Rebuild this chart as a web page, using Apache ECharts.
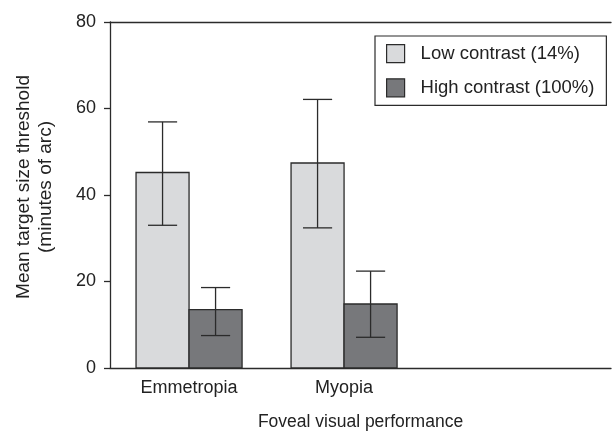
<!DOCTYPE html>
<html><head><meta charset="utf-8">
<script src="https://cdn.jsdelivr.net/npm/echarts@6/dist/echarts.min.js"></script>
<style>html,body{margin:0;padding:0;background:#fff}#c{width:612px;height:434px}</style>
</head><body><div id="c"></div>
<script>
const categories = ['Emmetropia', 'Myopia'];
const seriesNames = ['Low contrast (14%)', 'High contrast (100%)'];
const lowMean = [45.2, 47.4];
const lowLower = [33.0, 32.4];
const lowUpper = [56.9, 62.1];
const highMean = [13.5, 14.8];
const highLower = [7.5, 7.1];
const highUpper = [18.6, 22.4];
const yTicks = [0, 20, 40, 60, 80];

const FONT = '"Liberation Sans", Arial, Helvetica, sans-serif';
const TXT = '#222';
const LINE = '#2b2b2b';
const colors = ['#d9dadc', '#77787b'];
const BAR_W = 0.342;   // bar width in category units
const CAP_HALF = 0.094;

function makeRender(offsetSign) {
  return function (params, api) {
    const i = api.value(0);
    const mean = api.value(1), lo = api.value(2), hi = api.value(3);
    const x0 = offsetSign < 0 ? i - BAR_W : i;
    const x1 = offsetSign < 0 ? i : i + BAR_W;
    const xc = (x0 + x1) / 2;
    const pA = api.coord([x0, mean]);
    const pB = api.coord([x1, 0]);
    const pLo = api.coord([xc, lo]);
    const pHi = api.coord([xc, hi]);
    const cL = api.coord([xc - CAP_HALF, 0])[0];
    const cR = api.coord([xc + CAP_HALF, 0])[0];
    const ls = { stroke: LINE, lineWidth: 1.3, fill: null };
    return {
      type: 'group',
      children: [
        { type: 'rect', shape: { x: pA[0], y: pA[1], width: pB[0] - pA[0], height: pB[1] - pA[1] },
          style: { fill: api.visual('color'), stroke: LINE, lineWidth: 1.3 } },
        { type: 'line', shape: { x1: pLo[0], y1: pLo[1], x2: pHi[0], y2: pHi[1] }, style: ls },
        { type: 'line', shape: { x1: cL, y1: pHi[1], x2: cR, y2: pHi[1] }, style: ls },
        { type: 'line', shape: { x1: cL, y1: pLo[1], x2: cR, y2: pLo[1] }, style: ls }
      ]
    };
  };
}

const lowData = categories.map((c, i) => [i, lowMean[i], lowLower[i], lowUpper[i]]);
const highData = categories.map((c, i) => [i, highMean[i], highLower[i], highUpper[i]]);

const XMIN = -0.51, XMAX = 2.722;
const chart = echarts.init(document.getElementById('c'), null, { renderer: 'canvas' });
chart.setOption({
  animation: false,
  textStyle: { fontFamily: FONT },
  grid: { left: 110, right: 1, top: 22, bottom: 66, containLabel: false, outerBoundsMode: 'none' },
  legend: {
    orient: 'vertical', left: 375, top: 36,
    padding: [8, 12, 8, 11], itemGap: 15, itemWidth: 18, itemHeight: 18,
    borderColor: LINE, borderWidth: 1.2, backgroundColor: '#fff',
    icon: 'rect',
    textStyle: { fontFamily: FONT, fontSize: 18.5, color: TXT, padding: [0, 0, 0, 11] },
    data: [
      { name: seriesNames[0], itemStyle: { color: colors[0], borderColor: LINE, borderWidth: 1.2 } },
      { name: seriesNames[1], itemStyle: { color: colors[1], borderColor: LINE, borderWidth: 1.2 } }
    ]
  },
  xAxis: [{
    type: 'value', min: XMIN, max: XMAX, position: 'bottom',
    name: 'Foveal visual performance', nameLocation: 'middle', nameGap: 45,
    nameTextStyle: { fontFamily: FONT, fontSize: 17.5, color: TXT },
    axisLine: { show: true, onZero: false, lineStyle: { color: LINE, width: 1.3 } },
    axisTick: { show: false },
    splitLine: { show: false },
    axisLabel: { customValues: [0, 1], formatter: v => categories[Math.round(v)] || '',
      fontFamily: FONT, fontSize: 18, color: TXT, margin: 11 }
  }, {
    type: 'value', min: XMIN, max: XMAX, position: 'top',
    axisLine: { show: true, onZero: false, lineStyle: { color: LINE, width: 1.3 } },
    axisTick: { show: false }, axisLabel: { show: false }, splitLine: { show: false }
  }],
  yAxis: {
    type: 'value', min: yTicks[0], max: yTicks[yTicks.length - 1], interval: 20,
    axisLine: { show: true, onZero: false, lineStyle: { color: LINE, width: 1.3 } },
    axisTick: { show: true, inside: false, length: 6, lineStyle: { color: LINE, width: 1.3 } },
    splitLine: { show: false },
    axisLabel: { fontFamily: FONT, fontSize: 18, color: TXT, margin: 14 }
  },
  graphic: [{
    type: 'text', x: 35, y: 187, rotation: Math.PI / 2,
    style: { text: 'Mean target size threshold\n(minutes of arc)', font: '19px ' + FONT,
      fill: TXT, align: 'center', verticalAlign: 'middle', lineHeight: 22 }
  }],
  series: [
    { name: seriesNames[0], type: 'custom', xAxisIndex: 0, itemStyle: { color: colors[0] },
      renderItem: makeRender(-1), data: lowData, encode: { x: 0, y: [1, 2, 3] } },
    { name: seriesNames[1], type: 'custom', xAxisIndex: 0, itemStyle: { color: colors[1] },
      renderItem: makeRender(1), data: highData, encode: { x: 0, y: [1, 2, 3] } }
  ]
});
</script></body></html>
